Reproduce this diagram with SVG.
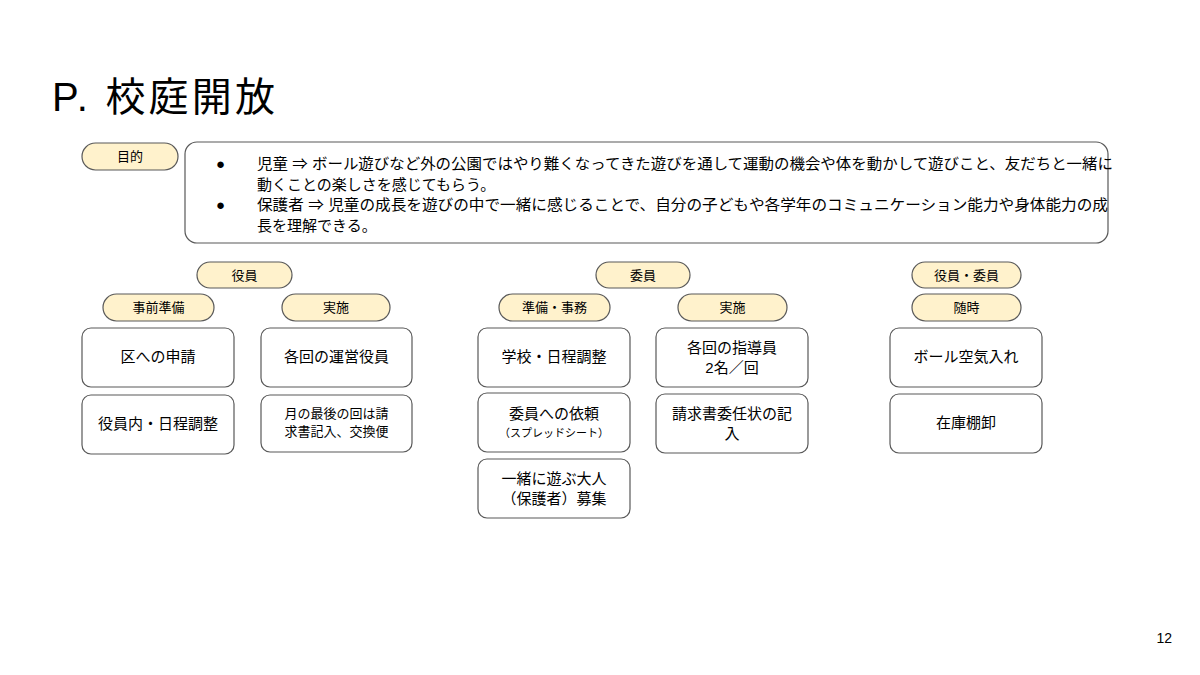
<svg xmlns="http://www.w3.org/2000/svg" width="1200" height="675" viewBox="0 0 1200 675">
<style>
text{font-family:"Liberation Sans","Noto Sans CJK JP",sans-serif;fill:#000}
.pill{fill:#fff2cc;stroke:#595959;stroke-width:1.2}
.box{fill:#fff;stroke:#595959;stroke-width:1.2}
.pt{font-size:13px;text-anchor:middle}
.bt{font-size:15px;text-anchor:middle}
.st{font-size:11px;text-anchor:middle}
.tx{font-size:15px}
</style>
<rect width="1200" height="675" fill="#fff"/>
<text x="52" y="111" font-size="40" textLength="223" lengthAdjust="spacing">P. 校庭開放</text>
<text x="1172" y="643" font-size="14" fill="#595959" text-anchor="end">12</text>
<g id="mokuteki"><rect class="pill" x="82" y="143" width="96" height="27" rx="13.5"/><text class="pt" x="130" y="161">目的</text></g>
<g id="purpose"><rect class="box" x="185" y="142" width="923" height="101" rx="12"/>
<text class="tx" x="216" y="169">●</text><text class="tx" x="257" y="169" textLength="856" lengthAdjust="spacingAndGlyphs">児童 ⇒ ボール遊びなど外の公園ではやり難くなってきた遊びを通して運動の機会や体を動かして遊びこと、友だちと一緒に</text>
<text class="tx" x="257" y="190">動くことの楽しさを感じてもらう。</text>
<text class="tx" x="216" y="210">●</text><text class="tx" x="257" y="210" textLength="851" lengthAdjust="spacingAndGlyphs">保護者 ⇒ 児童の成長を遊びの中で一緒に感じることで、自分の子どもや各学年のコミュニケーション能力や身体能力の成</text>
<text class="tx" x="257" y="231">長を理解できる。</text></g>
<g id="yakuin"><rect class="pill" x="197" y="262" width="95" height="26" rx="13"/><text class="pt" x="244.5" y="280">役員</text></g>
<g id="jizen"><rect class="pill" x="103" y="294" width="111" height="27" rx="13.5"/><text class="pt" x="158.5" y="312">事前準備</text></g>
<g id="jisshi1"><rect class="pill" x="282" y="294" width="108" height="27" rx="13.5"/><text class="pt" x="336" y="312">実施</text></g>
<g id="n1"><rect class="box" x="82" y="328" width="152" height="59" rx="9"/><text class="bt" x="158" y="362">区への申請</text></g>
<g id="n2"><rect class="box" x="82" y="395" width="152" height="59" rx="9"/><text class="bt" x="158" y="429">役員内・日程調整</text></g>
<g id="n3"><rect class="box" x="261" y="328" width="151" height="59" rx="9"/><text class="bt" x="336.5" y="362">各回の運営役員</text></g>
<g id="n4"><rect class="box" x="261" y="395" width="151" height="57" rx="9"/><text class="pt" x="336.5" y="418">月の最後の回は請</text><text class="pt" x="336.5" y="436">求書記入、交換便</text></g>
<g id="iin"><rect class="pill" x="596" y="262" width="94" height="26" rx="13"/><text class="pt" x="643" y="280">委員</text></g>
<g id="junbi"><rect class="pill" x="499" y="294" width="111" height="27" rx="13.5"/><text class="pt" x="554.5" y="312">準備・事務</text></g>
<g id="jisshi2"><rect class="pill" x="678" y="294" width="109" height="27" rx="13.5"/><text class="pt" x="732.5" y="312">実施</text></g>
<g id="n5"><rect class="box" x="478" y="328" width="152" height="59" rx="9"/><text class="bt" x="554" y="362">学校・日程調整</text></g>
<g id="n6"><rect class="box" x="478" y="393" width="152" height="59" rx="9"/><text class="bt" x="554" y="419">委員への依頼</text><text class="st" x="554" y="437">（スプレッドシート）</text></g>
<g id="n7"><rect class="box" x="478" y="459" width="152" height="59" rx="9"/><text class="bt" x="554" y="484">一緒に遊ぶ大人</text><text class="bt" x="554" y="504">（保護者）募集</text></g>
<g id="n8"><rect class="box" x="656" y="328" width="152" height="59" rx="9"/><text class="bt" x="732" y="353">各回の指導員</text><text class="bt" x="732" y="373">2名／回</text></g>
<g id="n9"><rect class="box" x="656" y="394" width="152" height="59" rx="9"/><text class="bt" x="732" y="419">請求書委任状の記</text><text class="bt" x="732" y="439">入</text></g>
<g id="yi"><rect class="pill" x="912" y="262" width="109" height="26" rx="13"/><text class="pt" x="966.5" y="280">役員・委員</text></g>
<g id="zuiji"><rect class="pill" x="912" y="294" width="109" height="27" rx="13.5"/><text class="pt" x="966.5" y="312">随時</text></g>
<g id="n10"><rect class="box" x="890" y="328" width="152" height="59" rx="9"/><text class="bt" x="966" y="362">ボール空気入れ</text></g>
<g id="n11"><rect class="box" x="890" y="394" width="152" height="59" rx="9"/><text class="bt" x="966" y="428">在庫棚卸</text></g>
<g id="connectors"/>
</svg>
